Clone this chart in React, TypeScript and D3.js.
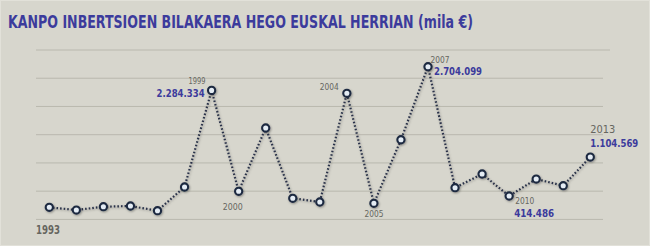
import React from "react";
import * as d3 from "d3";

const years = [1993,1994,1995,1996,1997,1998,1999,2000,2001,2002,2003,2004,2005,2006,2007,2008,2009,2010,2011,2012,2013];
const values = [214000,166000,225000,237000,154000,574000,2284334,498000,1619000,374000,308000,2233000,285000,1411000,2704099,561000,804000,414486,715000,597000,1104569];
const gridTicks = [0,500000,1000000,1500000,2000000,2500000,3000000];

type Ann = { year: number; yearLabel?: string; value?: string; dx: number; dy: number; vdx?: number; vdy?: number; anchor: string; ys?: number; yl?: number; vl?: number };
const annotations: Ann[] = [
  { year: 1999, yearLabel: "1999", value: "2.284.334", dx: -6, dy: -6.5, vdx: -7, vdy: 6.5, anchor: "end", ys: 8.5, yl: 17, vl: 48 },
  { year: 2000, yearLabel: "2000", dx: -6, dy: 19, anchor: "middle", ys: 8.5, yl: 20 },
  { year: 2004, yearLabel: "2004", dx: -8, dy: -3, anchor: "end", ys: 8.5, yl: 19 },
  { year: 2005, yearLabel: "2005", dx: 0, dy: 13.8, anchor: "middle", ys: 8.5, yl: 19 },
  { year: 2007, yearLabel: "2007", value: "2.704.099", dx: 2.5, dy: -3.5, vdx: 6, vdy: 8.3, anchor: "start", ys: 8.5, yl: 19, vl: 48 },
  { year: 2010, yearLabel: "2010", value: "414.486", dx: 6, dy: 8, vdx: 5, vdy: 21.3, anchor: "start", ys: 8.5, yl: 19, vl: 40 },
  { year: 2013, yearLabel: "2013", value: "1.104.569", dx: 0, dy: -24, vdx: 0, vdy: -9.8, anchor: "start", ys: 11, yl: 25, vl: 48 },
];

const W = 650, H = 246;
const FONT = "'DejaVu Sans Condensed', 'Liberation Sans Narrow', 'Roboto', sans-serif";

export default function App() {
  const x = d3.scaleLinear().domain([1993, 2013]).range([49.3, 590.3]);
  const y = d3.scaleLinear().domain([0, 3000000]).range([219.4, 50]);
  const line = d3.line<number>().x((_, i) => x(years[i])).y(d => y(d));
  const idx = (yr: number) => years.indexOf(yr);
  return (
    <svg width={W} height={H} style={{ position: "absolute", left: 0, top: 0 }}>
      <defs>
        <filter id="sh" x="-50%" y="-50%" width="200%" height="200%">
          <feDropShadow dx="0.8" dy="1" stdDeviation="0.8" floodColor="#000" floodOpacity="0.35" />
        </filter>
      </defs>
      <rect x={0} y={0} width={W} height={H} fill="#d7d6cd" />
      <rect x={0.5} y={0.5} width={W - 1} height={H - 1} fill="none" stroke="#e2e1d9" strokeWidth={1} />
      <text x={8} y={27.5} fill="#3c3b9c" fontFamily={FONT} fontWeight="bold" fontSize={18}
        textLength={465} lengthAdjust="spacingAndGlyphs">KANPO INBERTSIOEN BILAKAERA HEGO EUSKAL HERRIAN (mila €)</text>
      {gridTicks.map(t => (
        <line key={t} x1={36} x2={t === 3000000 ? 610 : 603} y1={y(t)} y2={y(t)} stroke="#b9b8ae" strokeWidth={1} />
      ))}
      <path d={line(values) || ""} fill="none" stroke="#2b3349" strokeWidth={2.2} strokeDasharray="1.6 2" filter="url(#sh)" />
      {values.map((v, i) => (
        <circle key={years[i]} cx={x(years[i])} cy={y(v)} r={3.6} fill="#e4ecf4" stroke="#1d2941" strokeWidth={2.1} filter="url(#sh)" />
      ))}
      {annotations.map(a => {
        const px = x(a.year), py = y(values[idx(a.year)]);
        return (
          <g key={a.year} fontFamily={FONT}>
            {a.yearLabel && (
              <text x={px + a.dx} y={py + a.dy} textAnchor={a.anchor} fill="#66665f" fontSize={a.ys}
                textLength={a.yl} lengthAdjust="spacingAndGlyphs">{a.yearLabel}</text>
            )}
            {a.value && (
              <text x={px + (a.vdx ?? 0)} y={py + (a.vdy ?? 0)} textAnchor={a.anchor} fill="#3c3b9c" fontSize={11} fontWeight="bold"
                textLength={a.vl} lengthAdjust="spacingAndGlyphs">{a.value}</text>
            )}
          </g>
        );
      })}
      <text x={36} y={233.5} fill="#66665f" fontSize={11.5} fontWeight="bold" fontFamily={FONT}
        textLength={24} lengthAdjust="spacingAndGlyphs">1993</text>
    </svg>
  );
}
